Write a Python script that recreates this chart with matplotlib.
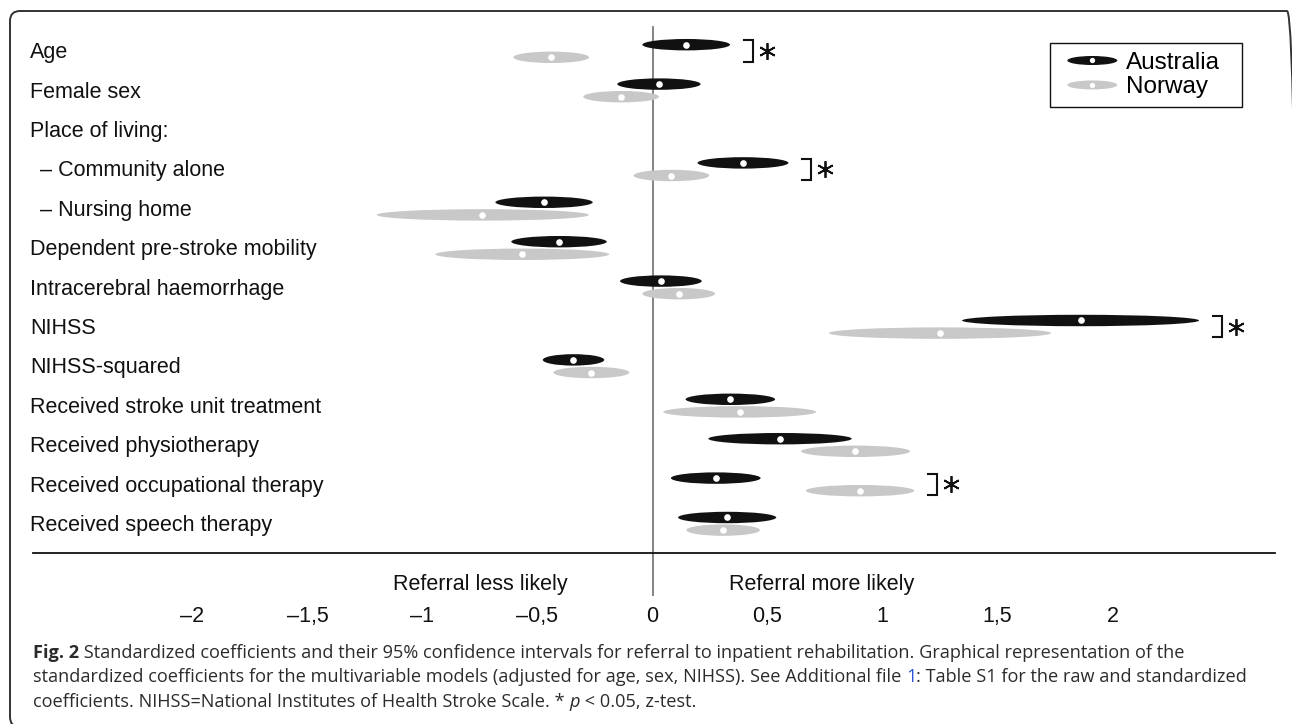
import numpy as np
import matplotlib
matplotlib.use("Agg")
import matplotlib.pyplot as plt
from matplotlib.patches import Ellipse, FancyBboxPatch
from matplotlib.lines import Line2D
from matplotlib.legend_handler import HandlerBase
from matplotlib.transforms import IdentityTransform

# data (standardized coefficients, 95% CI)
labels = ["Age", "Female sex", "Place of living:", "– Community alone", "– Nursing home",
          "Dependent pre-stroke mobility", "Intracerebral haemorrhage", "NIHSS", "NIHSS-squared",
          "Received stroke unit treatment", "Received physiotherapy",
          "Received occupational therapy", "Received speech therapy"]
nan = np.nan
aus_est = [0.146, 0.028, nan, 0.392, -0.472, -0.408, 0.036, 1.862, -0.344, 0.338, 0.554, 0.276, 0.324]
aus_lo = [-0.044, -0.153, nan, 0.196, -0.683, -0.614, -0.141, 1.346, -0.477, 0.144, 0.243, 0.080, 0.111]
aus_hi = [0.337, 0.209, nan, 0.591, -0.260, -0.199, 0.214, 2.376, -0.210, 0.533, 0.866, 0.470, 0.538]
nor_est = [-0.441, -0.137, nan, 0.082, -0.740, -0.567, 0.115, 1.250, -0.267, 0.379, 0.882, 0.902, 0.305]
nor_lo = [-0.605, -0.301, nan, -0.082, -1.199, -0.944, -0.044, 0.767, -0.431, 0.047, 0.646, 0.667, 0.147]
nor_hi = [-0.276, 0.028, nan, 0.247, -0.277, -0.188, 0.272, 1.733, -0.101, 0.711, 1.120, 1.138, 0.467]
significant = ["Age", "– Community alone", "NIHSS", "Received occupational therapy"]
xticks = [-2, -1.5, -1, -0.5, 0, 0.5, 1, 1.5, 2]
xtick_labels = ["–2", "–1,5", "–1", "–0,5", "0", "0,5", "1", "1,5", "2"]

W, H = 1292, 724
AUS_COL = "#111111"
NOR_COL = "#c8c8c8"
LABEL_FONT = "Liberation Sans"
CAP_FONT = "Open Sans"

fig = plt.figure(figsize=(W / 100, H / 100), dpi=100)

def fx(px):
    return px / W

def fy(py):
    return 1 - py / H

# pixel -> row units (rows are 39.4 px apart, first row centred at y=51)
def row(py):
    return (py - 51) / 39.4

ax = fig.add_axes([fx(33), fy(553), (1275 - 33) / W, (553 - 11) / H])
ax.set_xlim((33 - 652.5) / 230, (1275 - 652.5) / 230)
ax.set_ylim(row(553), row(11))
for s in ["top", "left", "right"]:
    ax.spines[s].set_visible(False)
ax.spines["bottom"].set_color("#111111")
ax.spines["bottom"].set_linewidth(1.3)
ax.set_yticks([])
ax.set_xticks(xticks, xtick_labels)
ax.tick_params(axis="x", length=0, pad=38, labelsize=15.5)
for t in ax.get_xticklabels():
    t.set_fontfamily(LABEL_FONT)
    t.set_color("#111111")

# zero reference line
ax.plot([0, 0], [row(27), row(595)], color="#7a7a7a", lw=1.3, clip_on=False, zorder=1)

off = 0.16
eh = 0.29
for i, lab in enumerate(labels):
    x_lab = (40 - 33) / 1242 if lab.startswith("–") else (30 - 33) / 1242
    ax.text(x_lab, i + 0.185, lab, transform=ax.get_yaxis_transform(), ha="left",
            va="baseline", fontsize=15.5, family=LABEL_FONT, color="#111111")
    if np.isnan(aus_est[i]):
        continue
    for est, lo, hi, dy, col in [(aus_est[i], aus_lo[i], aus_hi[i], -off, AUS_COL),
                                 (nor_est[i], nor_lo[i], nor_hi[i], off, NOR_COL)]:
        ax.add_patch(Ellipse(((lo + hi) / 2, i + dy), hi - lo, eh, facecolor=col,
                             edgecolor="none", zorder=3))
        ax.plot(est, i + dy, "o", ms=4.8, color="white", mec="none", zorder=4)
    if lab in significant:
        bx = max(aus_hi[i], nor_hi[i]) + 0.1
        y0, y1 = i - off - 0.11, i + off + 0.11
        ax.plot([bx - 0.04, bx, bx, bx - 0.04], [y0, y0, y1, y1], color="#111111",
                lw=1.5, solid_joinstyle="miter", zorder=3)
        ax.plot(bx + 0.06, i, marker=(6, 2, 0), ms=12, mew=1.3, color="#111111", zorder=3)

ax.text((568 - 652.5) / 230, row(590), "Referral less likely", ha="right", va="baseline",
        fontsize=15.5, family=LABEL_FONT, color="#111111")
ax.text((729 - 652.5) / 230, row(590), "Referral more likely", ha="left", va="baseline",
        fontsize=15.5, family=LABEL_FONT, color="#111111")


class EllipseHandler(HandlerBase):
    # leaves a small blank gap at the left of the handle box
    def create_artists(self, legend, orig_handle, xdescent, ydescent, width, height,
                       fontsize, trans):
        gap = 6
        ew = width - gap
        cx = gap + ew / 2 - xdescent
        cy = height / 2 - ydescent
        e = Ellipse((cx, cy), ew, 6.5, facecolor=orig_handle.get_facecolor(),
                    edgecolor="none", transform=trans)
        d = Line2D([cx], [cy], marker="o", ms=3.8, color="white", mec="none", transform=trans)
        return [e, d]


h_aus = Ellipse((0, 0), 1, 1, facecolor=AUS_COL)
h_nor = Ellipse((0, 0), 1, 1, facecolor=NOR_COL)
leg = fig.legend([h_aus, h_nor], ["Australia", "Norway"], loc="upper left", mode="expand",
                 bbox_to_anchor=(fx(1050), fy(105), (1242 - 1050) / W, (105 - 43) / H),
                 bbox_transform=fig.transFigure,
                 borderaxespad=0, fancybox=False, framealpha=1, edgecolor="#111111",
                 prop={"family": LABEL_FONT, "size": 17.5}, handlelength=2.4,
                 handletextpad=0.36, labelspacing=0.1, borderpad=0.37,
                 handler_map={Ellipse: EllipseHandler()})
leg.get_frame().set_linewidth(1.0)

# outer rounded frame (right and bottom edges fall just outside the canvas)
frame = FancyBboxPatch((10, -3), 1287, 716, boxstyle="round,pad=0,rounding_size=10",
                       transform=IdentityTransform(), facecolor="none",
                       edgecolor="#333333", lw=1.4)
fig.add_artist(frame)

# caption, placed piece by piece
renderer = fig.canvas.get_renderer()
cap_kw = {"family": CAP_FONT, "size": 13.1, "color": "#2b2b2b"}


def text_w(s, **kw):
    a = fig.text(0, 0, "|" + s + "|", **kw)
    b = fig.text(0, 0, "||", **kw)
    w = a.get_window_extent(renderer).width - b.get_window_extent(renderer).width
    a.remove()
    b.remove()
    return w


def caption_line(pieces, py, x0=33):
    x = x0
    for s, extra in pieces:
        kw = dict(cap_kw)
        kw.update(extra)
        fig.text(fx(x), fy(py), s, ha="left", va="baseline", **kw)
        x += text_w(s, **kw)


caption_line([("Fig. 2", {"weight": "bold"}),
              (" Standardized coefficients and their 95% confidence intervals for referral to "
               "inpatient rehabilitation. Graphical representation of the", {})], 658)
caption_line([("standardized coefficients for the multivariable models (adjusted for age, sex, "
               "NIHSS). See Additional file ", {}),
              ("1", {"color": "#2a55d4"}),
              (": Table S1 for the raw and standardized", {})], 682.5)
caption_line([("coefficients. NIHSS=National Institutes of Health Stroke Scale. * ", {}),
              ("p", {"style": "italic"}),
              (" < 0.05, z-test.", {})], 707)

fig.savefig("out.png", dpi=100)
